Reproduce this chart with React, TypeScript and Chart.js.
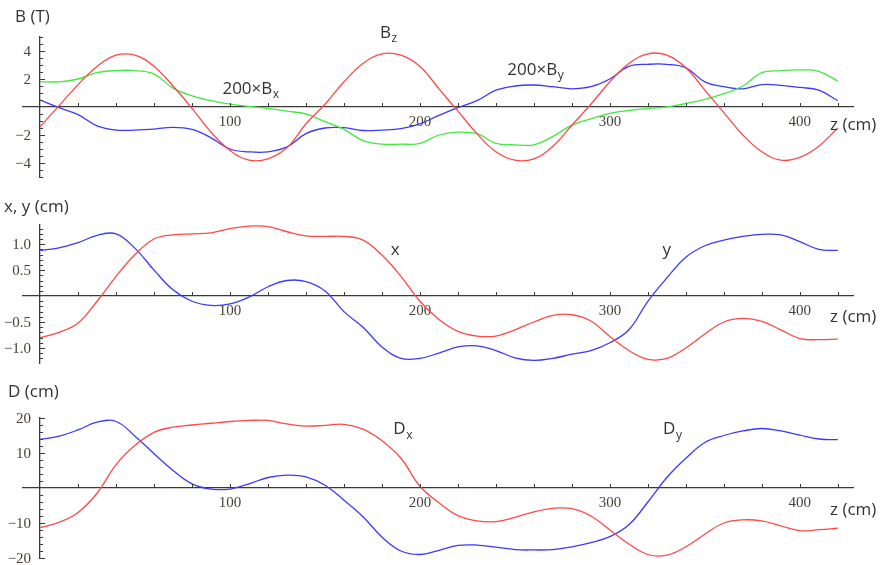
import React, { useEffect, useRef } from 'react';
import { Chart, registerables } from 'chart.js';

Chart.register(...registerables);

// ---------- data ----------
const zValues = [0, 10, 20, 30, 40, 50, 60, 70, 80, 90, 100, 110, 120, 130, 140, 150, 160, 170, 180, 190, 200, 210, 220, 230, 240, 250, 260, 270, 280, 290, 300, 310, 320, 330, 340, 350, 360, 370, 380, 390, 400, 410, 420];

const bz = [-1.4, 0.1, 1.6, 2.9, 3.7, 3.7, 2.9, 1.5, -0.1, -1.8, -3.1, -3.8, -3.7, -2.9, -1.2, 0.2, 1.8, 3.1, 3.8, 3.7, 2.9, 1.3, -0.3, -1.9, -3.2, -3.8, -3.7, -2.8, -1.3, 0.2, 1.8, 3.1, 3.8, 3.7, 2.8, 1.2, -0.4, -2.0, -3.2, -3.8, -3.6, -2.8, -1.5];
const bx200 = [1.8, 1.8, 2.0, 2.45, 2.6, 2.6, 2.35, 1.35, 0.8, 0.45, 0.2, 0.05, -0.1, -0.3, -0.5, -1.05, -1.6, -2.4, -2.65, -2.65, -2.6, -2.0, -1.8, -1.9, -2.6, -2.7, -2.7, -2.1, -1.3, -0.85, -0.45, -0.25, -0.1, 0.0, 0.25, 0.55, 0.95, 1.5, 2.45, 2.6, 2.65, 2.55, 1.85];
const by200 = [0.5, -0.05, -0.55, -1.35, -1.65, -1.65, -1.58, -1.45, -1.6, -2.2, -3.0, -3.2, -3.2, -2.85, -1.9, -1.5, -1.48, -1.68, -1.65, -1.55, -1.2, -0.6, -0.05, 0.45, 1.2, 1.5, 1.57, 1.45, 1.3, 1.45, 2.0, 2.9, 3.05, 3.05, 2.8, 1.8, 1.45, 1.3, 1.6, 1.55, 1.4, 1.2, 0.45];

const xPos = [-0.8, -0.7, -0.52, -0.1, 0.38, 0.8, 1.1, 1.18, 1.2, 1.22, 1.3, 1.35, 1.34, 1.24, 1.16, 1.15, 1.15, 1.08, 0.79, 0.38, -0.1, -0.45, -0.68, -0.77, -0.77, -0.65, -0.5, -0.37, -0.36, -0.48, -0.78, -1.05, -1.22, -1.2, -1.0, -0.73, -0.5, -0.43, -0.49, -0.65, -0.82, -0.84, -0.83];
const yPos = [0.88, 0.93, 1.03, 1.17, 1.2, 0.92, 0.5, 0.12, -0.1, -0.18, -0.15, -0.02, 0.18, 0.3, 0.28, 0.1, -0.3, -0.6, -0.98, -1.2, -1.2, -1.1, -0.98, -0.96, -1.05, -1.19, -1.24, -1.2, -1.12, -1.05, -0.9, -0.65, -0.1, 0.35, 0.75, 0.97, 1.08, 1.15, 1.19, 1.18, 1.05, 0.9, 0.88];

const dX = [-11.3, -9.8, -7.0, -1.5, 6.7, 12.2, 15.9, 17.4, 18.0, 18.5, 19.0, 19.3, 19.3, 18.3, 17.7, 17.9, 18.2, 16.8, 13.5, 8.5, 0.5, -4.2, -7.9, -9.4, -9.6, -8.4, -6.8, -5.8, -5.9, -8.0, -12.0, -16.0, -19.0, -19.2, -16.8, -13.2, -10.0, -9.1, -9.4, -10.8, -12.2, -11.9, -11.5];
const dY = [13.9, 14.8, 16.6, 18.8, 19.0, 14.8, 9.8, 5.0, 1.2, -0.3, -0.3, 1.2, 3.0, 3.7, 3.2, 0.8, -3.5, -8.2, -14.0, -18.0, -19.0, -17.8, -16.4, -16.3, -16.9, -17.6, -17.7, -17.6, -16.8, -15.6, -13.9, -10.5, -4.0, 3.0, 8.5, 13.0, 15.0, 16.3, 17.0, 16.3, 15.1, 14.0, 13.8];

// ---------- ticks ----------
const zTickValues = [100, 200, 300, 400];
const zMinorTicks = [20, 40, 60, 80, 100, 120, 140, 160, 180, 200, 220, 240, 260, 280, 300, 320, 340, 360, 380, 400, 420];

const bTickValues = [4, 2, -2, -4];
const bTickLabels = ['4', '2', '\u22122', '\u22124'];
const bMinorTicks = [-5, -4.5, -3.5, -3, -2.5, -1.5, -1, -0.5, 0.5, 1, 1.5, 2.5, 3, 3.5, 4.5, 5];

const xyTickValues = [1.0, 0.5, -0.5, -1.0];
const xyTickLabels = ['1.0', '0.5', '\u22120.5', '\u22121.0'];
const xyMinorTicks = [-1.2, -1.1, -0.9, -0.8, -0.7, -0.6, -0.4, -0.3, -0.2, -0.1, 0.1, 0.2, 0.3, 0.4, 0.6, 0.7, 0.8, 0.9, 1.1, 1.2, 1.3];

const dTickValues = [20, 10, -10, -20];
const dTickLabels = ['20', '10', '\u221210', '\u221220'];
const dMinorTicks = [-18, -16, -14, -12, -8, -6, -4, -2, 2, 4, 6, 8, 12, 14, 16, 18];

// ---------- styles ----------
const RED = '#ff4848';
const GREEN = '#44e844';
const BLUE = '#3a3aff';
const AXIS = '#3a3a3a';
const TEXT = '#333333';
const TICK_TEXT = '#4a4238';
const SANS = '"Open Sans", "DejaVu Sans", sans-serif';
const SERIF = '"Liberation Serif", "DejaVu Serif", serif';

type Note = { z: number; v: number; main: string; sub?: string; align?: CanvasTextAlign };

const decorPlugin = {
  id: 'decor',
  afterDraw(chart: any, _args: any, opts: any) {
    const { ctx } = chart;
    const xs = chart.scales.x;
    const ys = chart.scales.y;
    const x0 = xs.getPixelForValue(0);
    const y0 = ys.getPixelForValue(0);
    ctx.save();
    ctx.strokeStyle = AXIS;
    ctx.lineWidth = 1;
    // x minor ticks (pointing up)
    for (const v of opts.xMinor as number[]) {
      const px = Math.round(xs.getPixelForValue(v)) + 0.5;
      ctx.beginPath();
      ctx.moveTo(px, y0);
      ctx.lineTo(px, y0 - 4);
      ctx.stroke();
    }
    // y ticks (pointing right)
    for (const v of opts.yMinor as number[]) {
      const py = Math.round(ys.getPixelForValue(v)) + 0.5;
      ctx.beginPath();
      ctx.moveTo(x0, py);
      ctx.lineTo(x0 + 3, py);
      ctx.stroke();
    }
    for (const v of opts.yMajor as number[]) {
      const py = Math.round(ys.getPixelForValue(v)) + 0.5;
      ctx.beginPath();
      ctx.moveTo(x0, py);
      ctx.lineTo(x0 + 5, py);
      ctx.stroke();
    }
    // y tick labels
    ctx.fillStyle = TICK_TEXT;
    ctx.font = `15px ${SERIF}`;
    ctx.textAlign = 'right';
    ctx.textBaseline = 'middle';
    (opts.yMajor as number[]).forEach((v, i) => {
      ctx.fillText(opts.yLabels[i], x0 - 9, ys.getPixelForValue(v) + 1);
    });
    // axis titles
    ctx.fillStyle = TEXT;
    ctx.font = `17px ${SANS}`;
    ctx.textAlign = 'left';
    ctx.fillText(opts.yTitle, x0 + opts.yTitleDx, ys.top + opts.yTitleDy);
    ctx.fillText('z (cm)', xs.right - 23, y0 + opts.zTitleDy);
    // curve notes
    for (const n of opts.notes as Note[]) {
      const px = xs.getPixelForValue(n.z);
      const py = ys.getPixelForValue(n.v);
      ctx.font = `17px ${SANS}`;
      const wMain = ctx.measureText(n.main).width;
      ctx.font = `12px ${SANS}`;
      const wSub = n.sub ? ctx.measureText(n.sub).width : 0;
      let start = px;
      if (n.align === 'center') start = px - (wMain + wSub) / 2;
      ctx.textAlign = 'left';
      ctx.font = `17px ${SANS}`;
      ctx.fillText(n.main, start, py);
      if (n.sub) {
        ctx.font = `12px ${SANS}`;
        ctx.fillText(n.sub, start + wMain + 0.5, py + 6);
      }
    }
    ctx.restore();
  },
};

type Series = { values: number[]; color: string };
type Panel = {
  series: Series[];
  min: number;
  max: number;
  top: number;
  bottom: number;
  yMajor: number[];
  yLabels: string[];
  yMinor: number[];
  yTitle: string;
  yTitleDx: number;
  yTitleDy: number;
  zTitleDy: number;
  notes: Note[];
};

const panels: Panel[] = [
  {
    series: [
      { values: bz, color: RED },
      { values: bx200, color: GREEN },
      { values: by200, color: BLUE },
    ],
    min: -5, max: 5, top: 37, bottom: 388,
    yMajor: bTickValues, yLabels: bTickLabels, yMinor: bMinorTicks,
    yTitle: 'B (T)', yTitleDx: -25, yTitleDy: -20, zTitleDy: 18,
    notes: [
      { z: 96, v: 1.3, main: '200\u00d7B', sub: 'x' },
      { z: 179, v: 5.3, main: 'B', sub: 'z' },
      { z: 246, v: 2.64, main: '200\u00d7B', sub: 'y' },
    ],
  },
  {
    series: [
      { values: xPos, color: RED },
      { values: yPos, color: BLUE },
    ],
    min: -1.29, max: 1.37, top: 225, bottom: 202,
    yMajor: xyTickValues, yLabels: xyTickLabels, yMinor: xyMinorTicks,
    yTitle: 'x, y (cm)', yTitleDx: -36, yTitleDy: -18, zTitleDy: 21,
    notes: [
      { z: 187, v: 0.89, main: 'x', align: 'center' },
      { z: 330, v: 0.89, main: 'y', align: 'center' },
    ],
  },
  {
    series: [
      { values: dX, color: RED },
      { values: dY, color: BLUE },
    ],
    min: -20, max: 20, top: 418, bottom: 7,
    yMajor: dTickValues, yLabels: dTickLabels, yMinor: dMinorTicks,
    yTitle: 'D (cm)', yTitleDx: -32, yTitleDy: -26, zTitleDy: 22,
    notes: [
      { z: 186, v: 16.7, main: 'D', sub: 'x' },
      { z: 328, v: 16.7, main: 'D', sub: 'y' },
    ],
  },
];

function PanelChart({ panel }: { panel: Panel }) {
  const ref = useRef<HTMLCanvasElement | null>(null);
  useEffect(() => {
    if (!ref.current) return;
    const chart = new Chart(ref.current, {
      type: 'line',
      data: {
        datasets: panel.series.map((s) => ({
          data: zValues.map((z, i) => ({ x: z, y: s.values[i] })),
          borderColor: s.color,
          borderWidth: 1.3,
          pointRadius: 0,
          fill: false,
          tension: 0.4,
        })),
      },
      options: {
        responsive: false,
        animation: false,
        devicePixelRatio: 1,
        layout: { padding: { left: 23, right: 28, top: panel.top, bottom: panel.bottom } },
        plugins: {
          legend: { display: false },
          tooltip: { enabled: false },
          decor: {
            xMinor: zMinorTicks,
            yMajor: panel.yMajor,
            yLabels: panel.yLabels,
            yMinor: panel.yMinor,
            yTitle: panel.yTitle,
            yTitleDx: panel.yTitleDx,
            yTitleDy: panel.yTitleDy,
            zTitleDy: panel.zTitleDy,
            notes: panel.notes,
          },
        } as any,
        scales: {
          x: {
            type: 'linear',
            min: -9,
            max: 428,
            position: { y: 0 } as any,
            grid: { display: false, drawTicks: false },
            border: { display: true, color: AXIS, width: 1.3 },
            afterBuildTicks: (s: any) => {
              s.ticks = zTickValues.map((v) => ({ value: v }));
            },
            ticks: {
              padding: 6,
              color: TICK_TEXT,
              font: { family: SERIF, size: 15 },
              maxRotation: 0,
              autoSkip: false,
              callback: (v: any) => String(v),
            },
          },
          y: {
            type: 'linear',
            min: panel.min,
            max: panel.max,
            position: { x: 0 } as any,
            grid: { display: false, drawTicks: false },
            border: { display: true, color: AXIS, width: 1.3 },
            ticks: { display: false },
          },
        },
      },
      plugins: [decorPlugin],
    });
    return () => chart.destroy();
  }, [panel]);
  return (
    <canvas
      ref={ref}
      width={881}
      height={565}
      style={{ position: 'absolute', left: 0, top: 0, width: 881, height: 565 }}
    />
  );
}

export default function App() {
  return (
    <div style={{ position: 'absolute', left: 0, top: 0, width: 881, height: 565, background: '#ffffff' }}>
      {panels.map((p, i) => (
        <PanelChart key={i} panel={p} />
      ))}
    </div>
  );
}
